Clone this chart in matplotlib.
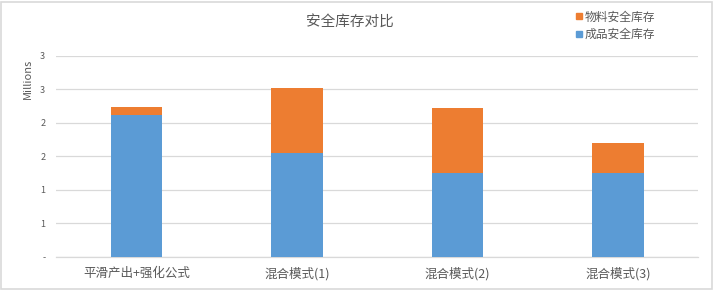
import matplotlib
matplotlib.use("Agg")
import matplotlib.pyplot as plt
from matplotlib.patches import Rectangle
from matplotlib.lines import Line2D

plt.rcParams['font.family'] = ['Noto Sans CJK SC', 'DejaVu Sans']

categories = ["平滑产出+强化公式", "混合模式(1)", "混合模式(2)", "混合模式(3)"]
finished = [2.12, 1.55, 1.25, 1.25]      # 成品安全库存 (millions)
material = [0.12, 0.97, 0.97, 0.45]      # 物料安全库存 (millions)
yticks = [0, 0.5, 1.0, 1.5, 2.0, 2.5, 3.0]
ytick_labels = ["-", "1", "1", "2", "2", "3", "3"]

blue = "#5B9BD5"
orange = "#ED7D31"
gray = "#595959"

fig = plt.figure(figsize=(7.14, 2.9), dpi=100)
ax = fig.add_axes([0.079, 0.114, 0.899, 0.694])

x = list(range(len(categories)))
w = 0.32
ax.bar(x, finished, width=w, color=blue, zorder=3)
ax.bar(x, material, width=w, bottom=finished, color=orange, zorder=3)

ax.set_xlim(-0.5, len(categories) - 0.5)
ax.set_ylim(0, 3.0)
ax.set_yticks(yticks)
ax.set_yticklabels(ytick_labels, fontsize=6.5, color=gray)
ax.set_xticks(x)
ax.set_xticklabels(categories, fontsize=9, color=gray)
ax.tick_params(axis='both', length=0, pad=8)
ax.tick_params(axis='x', pad=7)
ax.grid(axis='y', color="#D9D9D9", linewidth=0.9, zorder=0)
for s in ['top', 'right', 'left']:
    ax.spines[s].set_visible(False)
ax.spines['bottom'].set_color("#D9D9D9")
ax.spines['bottom'].set_linewidth(0.9)

ax.set_ylabel("Millions", fontsize=8, color=gray)
ax.yaxis.set_label_coords(-0.036, 0.885)
fig.text(0.49, 0.925, "安全库存对比", fontsize=10.5, color=gray, ha='center', va='center')

handles = [Line2D([], [], marker='s', linestyle='none', color=orange, markersize=5),
           Line2D([], [], marker='s', linestyle='none', color=blue, markersize=5)]
leg = fig.legend(handles, ["物料安全库存", "成品安全库存"], loc='upper left',
                 bbox_to_anchor=(0.789, 1.0), frameon=False, fontsize=8.5,
                 handletextpad=0.1, handlelength=0.8, labelspacing=0.35)
for t in leg.get_texts():
    t.set_color(gray)

fig.patches.append(Rectangle((0.002, 0.004), 0.995, 0.99, transform=fig.transFigure,
                             fill=False, edgecolor="#D9D9D9", linewidth=1.2))

fig.savefig("out.png", dpi=100)
